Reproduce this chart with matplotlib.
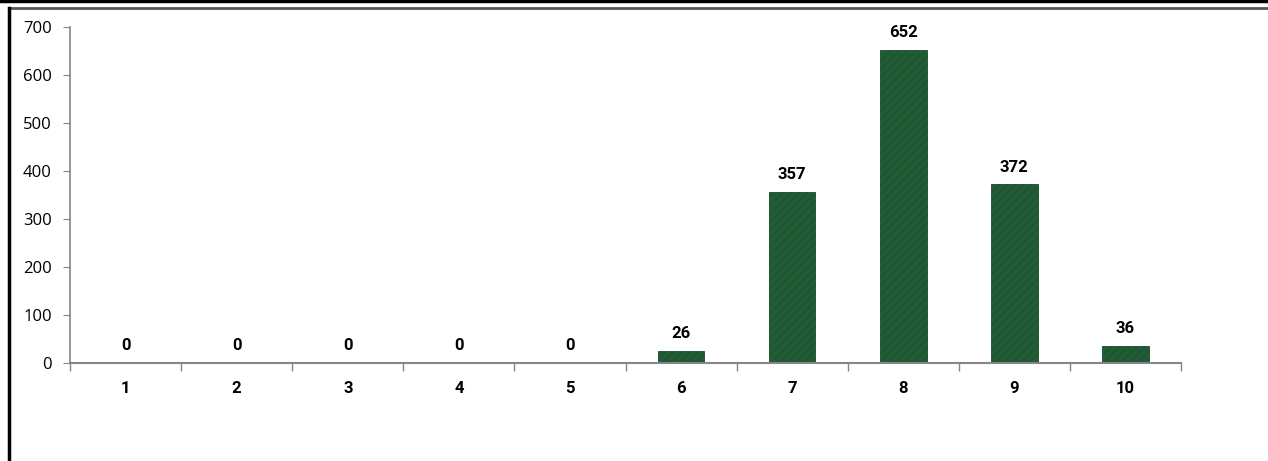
import numpy as np
import matplotlib.pyplot as plt
from matplotlib.lines import Line2D

categories = ['1', '2', '3', '4', '5', '6', '7', '8', '9', '10']
counts = [0, 0, 0, 0, 0, 26, 357, 652, 372, 36]
yticks = [0, 100, 200, 300, 400, 500, 600, 700]

W, H = 1268, 461
plt.rcParams['hatch.color'] = '#2f7a4a'
plt.rcParams['hatch.linewidth'] = 0.4
fig = plt.figure(figsize=(W / 100, H / 100), dpi=100)
ax = fig.add_axes([70 / W, (H - 363) / H, (1181 - 70) / W, (363 - 27) / H])

x = np.arange(len(categories))
bars = ax.bar(x, counts, width=0.42, color='#215c36', edgecolor='#1a4a2b', linewidth=0.6, zorder=2)
# faint streaks to hint at the marble fill
for b in bars:
    b.set_hatch('////')

for xi, v in zip(x, counts):
    ax.text(xi, v + 20, str(v), ha='center', va='bottom', fontsize=12,
            fontweight='bold', family='Roboto', color='black')

ax.set_xlim(-0.5, len(categories) - 0.5)
ax.set_ylim(0, 700)
ax.set_yticks(yticks)
ax.set_yticklabels([str(t) for t in yticks], family='Open Sans', fontsize=12)
ax.set_xticks(x)
ax.set_xticklabels(categories, family='Roboto', fontweight='bold', fontsize=12)
ax.tick_params(axis='x', length=0, pad=13)
ax.tick_params(axis='y', length=5, color='#868686', pad=8)
# category boundary ticks on the x axis
ax.set_xticks(np.arange(-0.5, len(categories)), minor=True)
ax.tick_params(axis='x', which='minor', length=6, color='#868686', width=1)

for s in ['top', 'right']:
    ax.spines[s].set_visible(False)
ax.spines['left'].set_color('#868686')
ax.spines['bottom'].set_color('#868686')
ax.spines['left'].set_linewidth(1.2)
ax.spines['bottom'].set_linewidth(1.5)

# outer frame
fig.add_artist(Line2D([0, 1], [1 - 1.5 / H, 1 - 1.5 / H], color='black', linewidth=2.5, transform=fig.transFigure))
fig.add_artist(Line2D([9 / W, 1], [1 - 8.5 / H, 1 - 8.5 / H], color='#555555', linewidth=2, transform=fig.transFigure))
fig.add_artist(Line2D([9 / W, 9 / W], [0, 1 - 8 / H], color='black', linewidth=2.5, transform=fig.transFigure))

fig.savefig('out.png', dpi=100)
